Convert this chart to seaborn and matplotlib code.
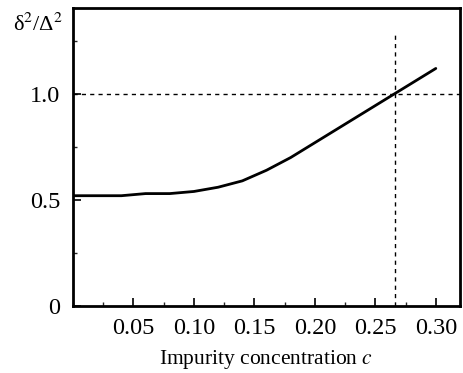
import numpy as np
import pandas as pd
import seaborn as sns
import matplotlib
matplotlib.use("Agg")
import matplotlib.pyplot as plt
from matplotlib.ticker import MultipleLocator

c_vals = [0.0, 0.02, 0.04, 0.06, 0.08, 0.10, 0.12, 0.14, 0.16, 0.18, 0.20, 0.22, 0.24, 0.26, 0.28, 0.30]
ratio = [0.52, 0.52, 0.52, 0.53, 0.53, 0.54, 0.56, 0.59, 0.64, 0.70, 0.77, 0.84, 0.91, 0.98, 1.05, 1.12]
x_ticks = [0.05, 0.10, 0.15, 0.20, 0.25, 0.30]
x_tick_labels = ["0.05", "0.10", "0.15", "0.20", "0.25", "0.30"]
y_ticks = [0, 0.5, 1.0]
y_tick_labels = ["0", "0.5", "1.0"]
c_cross = 0.266

sns.set_theme(style="white")
plt.rcParams['font.family'] = ['Liberation Serif', 'DejaVu Serif']
plt.rcParams['mathtext.fontset'] = 'stix'

df = pd.DataFrame({"c": c_vals, "r": ratio})
fig = plt.figure(figsize=(4.64, 3.73), dpi=100)
ax = fig.add_axes([73/464, 1 - 306/373, (460-73)/464, (306-8)/373])
sns.lineplot(data=df, x="c", y="r", ax=ax, color="black", lw=2.0)

ax.axhline(1.0, color="black", lw=1.0, ls=(0, (3, 3)))
ax.plot([c_cross, c_cross], [0, 1.28], color="black", lw=1.0, ls=(0, (3, 3)))

ax.set_xlim(0, 0.32)
ax.set_ylim(0, 1.405)
ax.set_xticks(x_ticks)
ax.set_xticklabels(x_tick_labels)
ax.set_yticks(y_ticks)
ax.set_yticklabels(y_tick_labels)
ax.xaxis.set_minor_locator(MultipleLocator(0.025))
ax.yaxis.set_minor_locator(MultipleLocator(0.25))
ax.tick_params(axis="both", which="major", direction="in", length=6, width=1.2,
               labelsize=17.5, colors="black", pad=9,
               bottom=True, left=True, top=False, right=False)
ax.tick_params(axis="both", which="minor", direction="in", length=3, width=1.0,
               bottom=True, left=True, top=False, right=False)
for s in ax.spines.values():
    s.set_color("black")
    s.set_linewidth(2.0)
ax.set_xlabel("Impurity concentration $\\mathit{c}$", fontsize=15.5, color="black", labelpad=6)
ax.set_ylabel("")
fig.text(38/464, 1 - 25/373, "δ$^2$/Δ$^2$", fontsize=16, color="black", ha="center", va="center")

fig.savefig("out.png", dpi=100)
